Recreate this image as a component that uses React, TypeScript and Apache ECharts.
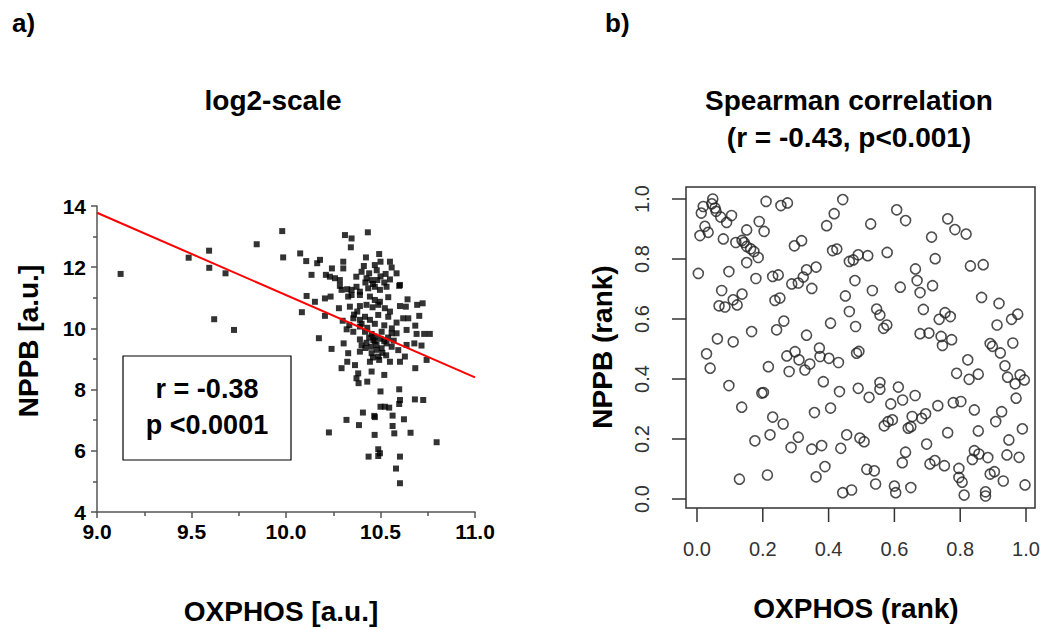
import React, { useEffect, useRef } from "react";
import * as echarts from "echarts";

// ---------- Panel a: log2-scale scatter ----------
const log2Points: [number, number][] = [
  [9.125, 11.78], [9.485, 12.31], [9.593, 12.54], [9.594, 11.98], [9.68, 11.8], [9.62, 10.3], [9.725, 9.95], [9.845, 12.75],
  [9.98, 13.18], [9.985, 12.32], [10.075, 12.45], [10.107, 12.2], [10.165, 12.13], [10.18, 12.24], [10.135, 11.75], [10.243, 11.96],
  [10.312, 13.05], [10.347, 12.94], [10.343, 12.65], [10.433, 13.14], [10.423, 12.32], [10.493, 12.43],
  [10.303, 12.18], [10.303, 11.96], [10.47, 12.07], [10.5, 12.18], [10.55, 12.18], [10.559, 11.99], [10.412, 12.04],
  [10.211, 11.75], [10.232, 11.69], [10.259, 11.64], [10.285, 11.58], [10.372, 11.69], [10.426, 11.64], [10.453, 11.58],
  [10.483, 11.58], [10.527, 11.78], [10.585, 11.8], [10.599, 11.39], [10.603, 11.42],
  [10.294, 11.26], [10.324, 11.28], [10.347, 11.26], [10.373, 11.36], [10.391, 11.2], [10.435, 11.31], [10.47, 11.36],
  [10.497, 11.26], [10.532, 11.36], [10.285, 11.39],
  [10.329, 11.04], [10.391, 11.09], [10.444, 11.04], [10.47, 10.93], [10.497, 10.87], [10.541, 11.02], [10.347, 11.09],
  [10.236, 11.04], [10.206, 10.98], [10.153, 10.87], [10.109, 11.06], [10.643, 10.95],
  [10.28, 10.66], [10.338, 10.71], [10.391, 10.73], [10.426, 10.77], [10.458, 10.69], [10.488, 10.77], [10.523, 10.66],
  [10.55, 10.55], [10.603, 10.73], [10.634, 10.71], [10.694, 10.77], [10.723, 10.82],
  [10.206, 10.41], [10.356, 10.33], [10.391, 10.28], [10.377, 10.55], [10.418, 10.38], [10.444, 10.28], [10.488, 10.44],
  [10.541, 10.38], [10.585, 10.19], [10.62, 10.33], [10.647, 10.33], [10.705, 10.41], [10.335, 10.11],
  [10.321, 9.97], [10.356, 9.89], [10.391, 10.06], [10.418, 9.89], [10.453, 9.82], [10.47, 9.73], [10.506, 9.89],
  [10.559, 9.84], [10.585, 9.84], [10.638, 9.95], [10.684, 10.09], [10.691, 9.82], [10.731, 9.82], [10.761, 9.82],
  [10.174, 9.68], [10.305, 9.51], [10.391, 9.64], [10.426, 9.53], [10.462, 9.62], [10.479, 9.46], [10.506, 9.35],
  [10.532, 9.51], [10.559, 9.4], [10.594, 9.29], [10.638, 9.46], [10.679, 9.51], [10.717, 9.44], [10.241, 9.33],
  [10.329, 9.19], [10.391, 9.24], [10.453, 9.19], [10.488, 9.08], [10.493, 8.97], [10.55, 8.91], [10.603, 8.91],
  [10.629, 9.08], [10.324, 8.91], [10.365, 8.8], [10.444, 8.91], [10.744, 8.97],
  [10.294, 8.7], [10.453, 8.59], [10.382, 8.53], [10.373, 8.37], [10.384, 8.21], [10.43, 8.26], [10.52, 8.48], [10.684, 8.7],
  [10.682, 7.68], [10.726, 7.66], [10.797, 6.28], [10.599, 8.01], [10.603, 7.66], [10.599, 7.53], [10.624, 7.03],
  [10.659, 6.59], [10.573, 6.57], [10.564, 7.15], [10.564, 6.81], [10.5, 7.44], [10.523, 7.44], [10.546, 7.41],
  [10.5, 7.94], [10.467, 7.14], [10.47, 7.1], [10.407, 7.25], [10.386, 6.84], [10.32, 7.01], [10.227, 6.6],
  [10.469, 6.52], [10.488, 6.05], [10.497, 5.92], [10.488, 5.83], [10.437, 5.81], [10.603, 5.81], [10.582, 5.42], [10.603, 4.94],
  [10.084, 10.53],
  [10.44, 9.7], [10.47, 9.58], [10.5, 9.66], [10.52, 9.58], [10.45, 9.4], [10.48, 9.3], [10.51, 9.2], [10.54, 9.7],
  [10.57, 9.6], [10.42, 9.36], [10.4, 9.45], [10.46, 9.05], [10.53, 9.12],
  [10.44, 11.8], [10.48, 11.9], [10.52, 11.5], [10.46, 11.45], [10.5, 11.7], [10.4, 11.85], [10.55, 11.6], [10.42, 11.5],
  [10.36, 10.45], [10.4, 10.15], [10.43, 10.02], [10.3, 10.25], [10.47, 10.15], [10.52, 10.1], [10.56, 10.0],
];
const fitLine: [number, number][] = [[9.0, 13.78], [11.0, 8.4]];
const log2XTicks = { min: 9, max: 11, interval: 0.5 };
const log2YTicks = { min: 4, max: 14, interval: 2 };

// ---------- Panel b: rank scatter ----------
const rankPoints: [number, number][] = [
  [0.048, 1.0], [0.019, 0.975], [0.013, 0.953], [0.045, 0.984], [0.055, 0.97], [0.058, 0.959], [0.072, 0.94], [0.09, 0.922],
  [0.105, 0.945], [0.024, 0.909], [0.034, 0.889], [0.009, 0.878], [0.08, 0.867], [0.118, 0.855], [0.137, 0.862], [0.143, 0.855],
  [0.151, 0.842], [0.163, 0.834], [0.173, 0.825], [0.186, 0.805], [0.151, 0.897], [0.189, 0.925], [0.204, 0.892], [0.21, 0.992],
  [0.255, 0.978], [0.275, 0.987], [0.151, 0.788], [0.004, 0.752], [0.097, 0.758], [0.179, 0.735], [0.23, 0.742], [0.247, 0.747],
  [0.296, 0.844], [0.318, 0.861], [0.288, 0.717], [0.308, 0.72], [0.323, 0.74], [0.333, 0.764], [0.362, 0.773], [0.349, 0.702],
  [0.394, 0.911], [0.417, 0.951], [0.443, 0.998], [0.412, 0.828], [0.425, 0.833], [0.463, 0.792], [0.475, 0.797], [0.49, 0.814],
  [0.48, 0.728], [0.075, 0.695], [0.137, 0.683], [0.11, 0.664], [0.122, 0.647], [0.067, 0.644], [0.085, 0.64], [0.237, 0.662],
  [0.252, 0.67], [0.451, 0.677], [0.463, 0.625], [0.264, 0.593], [0.242, 0.564], [0.166, 0.558], [0.062, 0.534], [0.11, 0.524],
  [0.333, 0.546], [0.406, 0.586], [0.482, 0.575], [0.372, 0.503],
  [0.029, 0.484], [0.04, 0.436], [0.097, 0.378], [0.136, 0.306], [0.197, 0.353], [0.202, 0.355], [0.217, 0.441], [0.273, 0.477],
  [0.298, 0.491], [0.31, 0.464], [0.328, 0.43], [0.343, 0.45], [0.28, 0.425], [0.374, 0.475], [0.401, 0.469], [0.43, 0.455],
  [0.384, 0.391], [0.433, 0.358], [0.485, 0.486], [0.49, 0.369], [0.23, 0.273], [0.262, 0.25], [0.357, 0.288], [0.406, 0.303],
  [0.176, 0.194], [0.222, 0.214], [0.308, 0.206], [0.286, 0.172], [0.349, 0.166], [0.379, 0.178], [0.437, 0.169], [0.455, 0.214],
  [0.495, 0.203], [0.389, 0.108], [0.362, 0.074], [0.129, 0.066], [0.214, 0.08], [0.443, 0.021], [0.47, 0.03],
  [0.607, 0.964], [0.634, 0.928], [0.528, 0.917], [0.762, 0.934], [0.784, 0.898], [0.818, 0.883], [0.713, 0.873], [0.519, 0.811],
  [0.578, 0.822], [0.724, 0.801], [0.664, 0.767], [0.831, 0.777], [0.87, 0.781], [0.669, 0.728], [0.533, 0.695], [0.618, 0.706],
  [0.678, 0.688], [0.716, 0.711], [0.865, 0.672], [0.918, 0.652], [0.546, 0.633], [0.556, 0.613], [0.577, 0.58], [0.567, 0.569],
  [0.688, 0.632], [0.736, 0.599], [0.754, 0.621], [0.77, 0.608], [0.912, 0.58], [0.956, 0.599], [0.975, 0.616], [0.678, 0.551],
  [0.705, 0.553], [0.742, 0.542], [0.746, 0.512], [0.774, 0.531], [0.891, 0.518], [0.898, 0.509], [0.922, 0.487], [0.96, 0.52],
  [0.492, 0.492], [0.823, 0.464],
  [0.789, 0.419], [0.827, 0.399], [0.855, 0.416], [0.936, 0.444], [0.944, 0.406], [0.982, 0.414], [0.967, 0.384], [0.995, 0.397],
  [0.97, 0.336], [0.523, 0.339], [0.556, 0.388], [0.556, 0.366], [0.612, 0.373], [0.625, 0.33], [0.663, 0.345], [0.589, 0.317],
  [0.732, 0.311], [0.779, 0.321], [0.802, 0.325], [0.843, 0.297], [0.926, 0.291], [0.908, 0.258], [0.989, 0.234], [0.855, 0.227],
  [0.948, 0.197], [0.762, 0.221], [0.698, 0.183], [0.581, 0.258], [0.594, 0.264], [0.569, 0.244], [0.654, 0.275], [0.642, 0.236],
  [0.65, 0.241], [0.683, 0.269], [0.695, 0.284], [0.508, 0.191], [0.634, 0.156], [0.624, 0.121], [0.708, 0.117], [0.723, 0.128],
  [0.752, 0.111], [0.843, 0.161], [0.857, 0.15], [0.837, 0.132], [0.884, 0.138], [0.942, 0.147], [0.979, 0.139], [0.796, 0.102],
  [0.796, 0.072], [0.806, 0.056], [0.812, 0.013], [0.891, 0.083], [0.904, 0.091], [0.931, 0.06], [0.997, 0.047], [0.877, 0.024],
  [0.877, 0.01], [0.516, 0.099], [0.539, 0.094], [0.543, 0.05], [0.6, 0.043], [0.604, 0.021], [0.65, 0.038],
];
const rankTickValues = [0, 0.2, 0.4, 0.6, 0.8, 1.0];
const rankTicks = { min: 0, max: 1, interval: 0.2 };

const FONT = '"Liberation Sans", Arial, sans-serif';

// panel b layout (plot box and the 0..1 data region inside it)
const BOX = { left: 686, top: 187, width: 349, height: 321 };
const DATA = { left: 697, top: 199, width: 329, height: 300 };
const TICK_LEN = 14;

export default function App() {
  const ref = useRef<HTMLDivElement>(null);

  useEffect(() => {
    if (!ref.current) return;
    const chart = echarts.init(ref.current, undefined, { renderer: "svg" });
    const axisGray = "#555";
    const dark = "#333";
    const hidden = {
      axisLine: { show: false }, axisTick: { show: false }, axisLabel: { show: false }, splitLine: { show: false },
    };
    const fmt = (v: number) => v.toFixed(1);
    const boxBottom = BOX.top + BOX.height;

    // tick marks of panel b, placed with the same linear mapping as the 0..1 data grid
    const tickGraphic: any[] = [];
    rankTickValues.forEach((v, i) => {
      const px = DATA.left + v * DATA.width;
      const py = DATA.top + DATA.height - v * DATA.height;
      tickGraphic.push({
        type: "line", id: `xt${i}`, z: 100, silent: true,
        shape: { x1: px, y1: boxBottom, x2: px, y2: boxBottom + TICK_LEN },
        style: { stroke: "#333333", lineWidth: 1.5 },
      });
      tickGraphic.push({
        type: "line", id: `yt${i}`, z: 100, silent: true,
        shape: { x1: BOX.left - TICK_LEN, y1: py, x2: BOX.left, y2: py },
        style: { stroke: "#333333", lineWidth: 1.5 },
      });
    });

    const option: any = {
      animation: false,
      backgroundColor: "#fff",
      textStyle: { fontFamily: FONT },
      grid: [
        { left: 97, top: 206, width: 378, height: 306 },
        { ...BOX, show: true, borderColor: dark, borderWidth: 1.5, backgroundColor: "transparent" },
        { ...DATA },
        { left: DATA.left, top: boxBottom, width: DATA.width, height: TICK_LEN },
        { left: BOX.left - TICK_LEN, top: DATA.top, width: TICK_LEN, height: DATA.height },
      ],
      xAxis: [
        {
          gridIndex: 0, type: "value", ...log2XTicks,
          axisLine: { show: true, onZero: false, lineStyle: { color: axisGray, width: 1.5 } },
          axisTick: { show: true, length: 6, lineStyle: { color: axisGray, width: 1.5 } },
          minorTick: { show: true, splitNumber: 2, length: 4, lineStyle: { color: axisGray, width: 1.5 } },
          splitLine: { show: false },
          axisLabel: { fontFamily: FONT, fontWeight: "bold", fontSize: 21, color: "#000", margin: 9, formatter: fmt },
        },
        { gridIndex: 1, type: "value", min: 0, max: 1, ...hidden },
        { gridIndex: 2, type: "value", ...rankTicks, ...hidden },
        {
          gridIndex: 3, type: "value", position: "bottom", ...rankTicks,
          axisLine: { show: false }, axisTick: { show: false }, splitLine: { show: false },
          axisLabel: { fontFamily: FONT, fontSize: 20, color: dark, margin: 17, formatter: fmt },
        },
        { gridIndex: 4, type: "value", min: 0, max: 1, ...hidden },
      ],
      yAxis: [
        {
          gridIndex: 0, type: "value", ...log2YTicks,
          axisLine: { show: true, onZero: false, lineStyle: { color: axisGray, width: 1.5 } },
          axisTick: { show: true, length: 6, lineStyle: { color: axisGray, width: 1.5 } },
          minorTick: { show: true, splitNumber: 2, length: 4, lineStyle: { color: axisGray, width: 1.5 } },
          splitLine: { show: false },
          axisLabel: { fontFamily: FONT, fontWeight: "bold", fontSize: 21, color: "#000", margin: 11 },
        },
        { gridIndex: 1, type: "value", min: 0, max: 1, ...hidden },
        { gridIndex: 2, type: "value", ...rankTicks, ...hidden },
        { gridIndex: 3, type: "value", min: 0, max: 1, ...hidden },
        {
          gridIndex: 4, type: "value", position: "left", ...rankTicks,
          axisLine: { show: false }, axisTick: { show: false }, splitLine: { show: false },
          axisLabel: { fontFamily: FONT, fontSize: 20, color: dark, margin: 20, rotate: 90, formatter: fmt },
        },
      ],
      series: [
        {
          type: "scatter", xAxisIndex: 0, yAxisIndex: 0, data: log2Points,
          symbol: "rect", symbolSize: 6, itemStyle: { color: "#000" }, silent: true,
        },
        {
          type: "line", xAxisIndex: 0, yAxisIndex: 0, data: fitLine,
          symbol: "none", lineStyle: { color: "#ff0000", width: 2 }, silent: true,
        },
        {
          type: "scatter", xAxisIndex: 2, yAxisIndex: 2, data: rankPoints, clip: false,
          symbol: "circle", symbolSize: 10,
          itemStyle: { color: "rgba(0,0,0,0)", borderColor: "#222", borderWidth: 1.6 }, silent: true,
        },
      ],
      graphic: [
        { type: "text", left: 12, top: 10, style: { text: "a)", font: `bold 26px ${FONT}`, fill: "#000" } },
        { type: "text", left: 605, top: 10, style: { text: "b)", font: `bold 26px ${FONT}`, fill: "#000" } },
        { type: "text", x: 273, y: 100, style: { text: "log2-scale", font: `bold 28px ${FONT}`, fill: "#000", align: "center", verticalAlign: "middle" } },
        { type: "text", x: 849, y: 100, style: { text: "Spearman correlation", font: `bold 28px ${FONT}`, fill: "#000", align: "center", verticalAlign: "middle" } },
        { type: "text", x: 849, y: 137, style: { text: "(r = -0.43, p<0.001)", font: `bold 28px ${FONT}`, fill: "#000", align: "center", verticalAlign: "middle" } },
        { type: "text", x: 281, y: 611, style: { text: "OXPHOS [a.u.]", font: `bold 28px ${FONT}`, fill: "#000", align: "center", verticalAlign: "middle" } },
        { type: "text", x: 856, y: 608, style: { text: "OXPHOS (rank)", font: `bold 28px ${FONT}`, fill: "#000", align: "center", verticalAlign: "middle" } },
        { type: "text", x: 28, y: 341, rotation: Math.PI / 2, style: { text: "NPPB [a.u.]", font: `bold 28px ${FONT}`, fill: "#000", align: "center", verticalAlign: "middle" } },
        { type: "text", x: 602, y: 347, rotation: Math.PI / 2, style: { text: "NPPB (rank)", font: `bold 28px ${FONT}`, fill: "#000", align: "center", verticalAlign: "middle" } },
        { type: "rect", shape: { x: 123, y: 356, width: 168, height: 104 }, style: { fill: "#fff", stroke: "#000", lineWidth: 1.2 }, z: 10 },
        { type: "text", x: 207, y: 389, z: 11, style: { text: "r = -0.38", font: `bold 27px ${FONT}`, fill: "#000", align: "center", verticalAlign: "middle" } },
        { type: "text", x: 207, y: 425, z: 11, style: { text: "p <0.0001", font: `bold 27px ${FONT}`, fill: "#000", align: "center", verticalAlign: "middle" } },
        ...tickGraphic,
      ],
    };
    chart.setOption(option);
    return () => chart.dispose();
  }, []);

  return <div ref={ref} style={{ position: "fixed", left: 0, top: 0, width: 1044, height: 629 }} />;
}
